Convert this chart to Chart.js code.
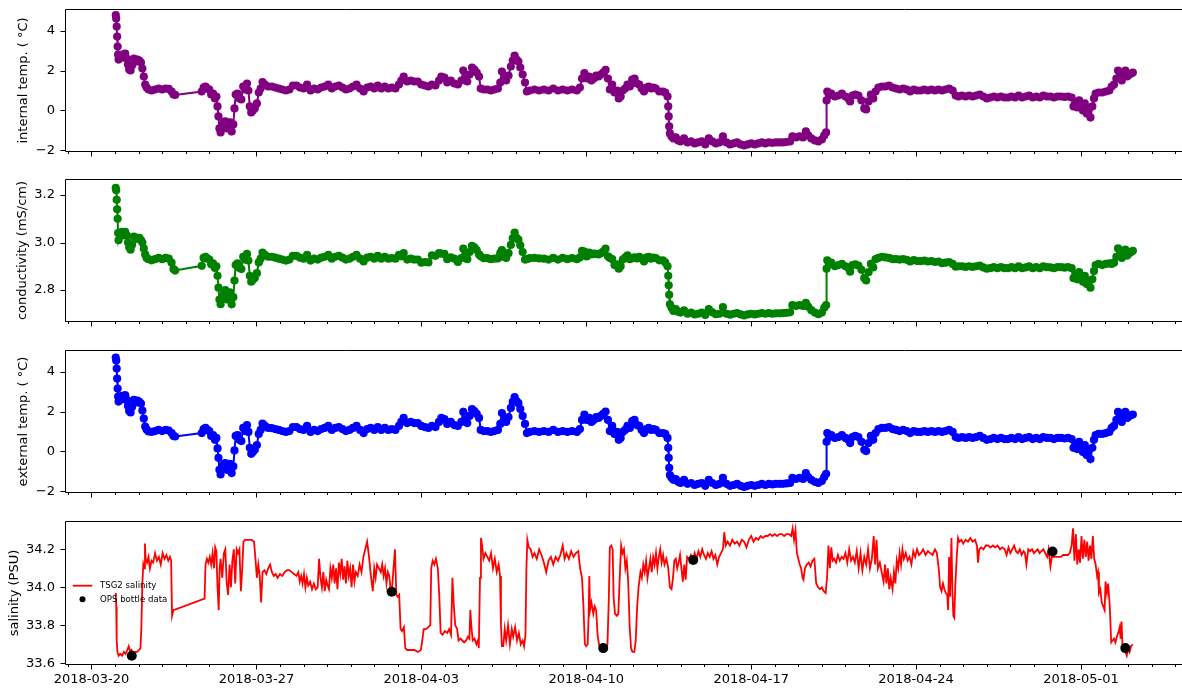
<!DOCTYPE html>
<html>
<head>
<meta charset="utf-8">
<script src="https://cdn.jsdelivr.net/npm/chart.js@4.4.1/dist/chart.umd.min.js"></script>
<style>
html,body{margin:0;padding:0;background:#fff;}
#wrap{position:relative;width:1182px;height:691px;overflow:hidden;background:#fff;}
.p{position:absolute;left:0;width:1186px;}
.p canvas{display:block;}
</style>
</head>
<body>
<div id="wrap">
  <div class="p" style="top:0px;height:170px"><canvas id="c1" width="1186" height="170"></canvas></div>
  <div class="p" style="top:170px;height:170px"><canvas id="c2" width="1186" height="170"></canvas></div>
  <div class="p" style="top:341px;height:170px"><canvas id="c3" width="1186" height="170"></canvas></div>
  <div class="p" style="top:511px;height:180px"><canvas id="c4" width="1186" height="180"></canvas></div>
</div>
<script>
// ---- data: time in days since 2018-03-20 00:00 ----
const TIME = [
1.03,1.05,1.07,1.09,1.11,1.13,1.15,1.22,1.29,1.36,
1.43,1.50,1.55,1.60,1.66,1.72,1.80,1.88,1.95,2.03,
2.10,2.16,2.22,2.28,2.34,2.42,2.55,2.70,2.85,3.00,
3.15,3.28,3.40,3.48,3.55,4.68,4.76,4.84,4.92,5.00,
5.08,5.16,5.24,5.30,5.35,5.39,5.43,5.48,5.55,5.62,
5.68,5.75,5.82,5.88,5.95,6.02,6.07,6.12,6.20,6.28,
6.36,6.44,6.52,6.60,6.66,6.72,6.78,6.85,6.93,7.02,
7.10,7.18,7.26,7.36,7.50,7.65,7.80,7.95,8.10,8.25,
8.40,8.55,8.70,8.85,9.00,9.15,9.30,9.45,9.60,9.75,
9.90,10.05,10.20,10.35,10.50,10.65,10.80,10.95,11.10,11.25,
11.40,11.55,11.70,11.85,12.00,12.15,12.30,12.45,12.60,12.75,
12.90,13.05,13.15,13.25,13.40,13.55,13.70,13.85,14.00,14.15,
14.30,14.45,14.60,14.75,14.85,14.98,15.10,15.25,15.40,15.55,
15.70,15.78,15.86,15.95,16.05,16.15,16.25,16.35,16.45,16.52,
16.65,16.80,16.95,17.10,17.25,17.35,17.42,17.50,17.60,17.70,
17.80,17.88,17.96,18.04,18.12,18.20,18.30,18.40,18.48,18.60,
18.80,19.00,19.20,19.40,19.60,19.80,20.00,20.20,20.40,20.60,
20.73,20.82,20.92,21.02,21.12,21.22,21.32,21.42,21.52,21.62,
21.72,21.82,21.92,22.00,22.10,22.20,22.30,22.38,22.46,22.55,
22.65,22.75,22.85,22.95,23.05,23.15,23.25,23.35,23.45,23.55,
23.65,23.75,23.85,23.95,24.10,24.25,24.35,24.45,24.48,24.50,
24.52,24.55,24.62,24.70,24.80,24.90,25.00,25.15,25.30,25.45,
25.60,25.75,25.90,26.05,26.20,26.35,26.50,26.65,26.80,26.95,
27.10,27.25,27.40,27.55,27.70,27.85,28.00,28.15,28.30,28.45,
28.60,28.75,28.90,29.05,29.20,29.35,29.50,29.65,29.75,29.90,
30.05,30.20,30.32,30.42,30.55,30.70,30.85,31.00,31.10,31.18,
31.20,31.23,31.30,31.40,31.55,31.70,31.85,32.00,32.12,32.20,
32.30,32.42,32.55,32.68,32.80,32.88,32.98,33.08,33.18,33.28,
33.40,33.55,33.70,33.85,34.00,34.15,34.30,34.45,34.60,34.75,
34.90,35.05,35.20,35.35,35.50,35.65,35.80,35.95,36.10,36.25,
36.40,36.55,36.68,36.80,36.95,37.10,37.25,37.40,37.55,37.70,
37.85,38.00,38.15,38.30,38.45,38.60,38.75,38.90,39.05,39.20,
39.35,39.50,39.65,39.80,39.95,40.10,40.25,40.40,40.55,40.70,
40.85,41.00,41.15,41.30,41.45,41.60,41.68,41.76,41.84,41.92,
42.00,42.08,42.16,42.24,42.32,42.40,42.48,42.55,42.62,42.75,
42.90,43.05,43.20,43.30,43.40,43.50,43.57,43.65,43.73,43.80,
43.88,43.96,44.05,44.13,44.20
];
const INT_TEMP = [
4.78,4.60,4.20,3.70,3.20,2.80,2.55,2.70,2.80,2.65,
2.85,2.60,2.30,2.05,2.00,2.25,2.60,2.45,2.55,2.50,
2.40,2.10,1.70,1.30,1.15,1.05,1.00,1.05,1.10,1.05,
1.10,1.08,0.95,0.80,0.78,0.95,1.15,1.20,1.10,1.05,
0.80,0.85,0.60,0.70,0.20,-0.30,-0.90,-1.10,-0.80,-0.60,
-0.55,-0.90,-0.70,-0.60,-1.05,-0.70,0.10,0.80,0.85,0.60,
0.55,1.20,1.05,1.35,1.00,0.20,-0.10,0.00,0.10,0.35,
0.90,1.10,1.42,1.30,1.20,1.20,1.15,1.10,1.05,1.00,
1.05,1.25,1.25,1.15,1.10,1.30,1.00,1.10,1.05,1.15,
1.20,1.30,1.10,1.20,1.25,1.15,1.05,1.10,1.20,1.30,
1.10,0.95,1.15,1.20,1.10,1.25,1.10,1.20,1.10,1.15,
1.10,1.30,1.50,1.70,1.45,1.50,1.45,1.45,1.30,1.25,
1.20,1.30,1.25,1.50,1.70,1.65,1.40,1.50,1.35,1.30,
1.50,2.00,1.60,1.45,1.80,2.15,2.05,1.90,1.70,1.10,
1.05,1.05,1.00,1.05,1.10,1.40,1.95,1.60,1.50,1.75,
2.20,2.50,2.75,2.55,2.45,2.15,1.80,1.40,0.95,1.00,
1.05,1.00,1.05,1.00,1.10,1.00,1.05,1.00,1.05,1.00,
1.15,1.60,1.87,1.60,1.70,1.50,1.60,1.75,1.70,1.80,
1.90,2.03,1.60,1.05,1.30,0.90,1.00,0.60,0.70,1.00,
1.10,1.30,1.20,1.55,1.60,1.35,1.30,1.10,0.95,1.15,
1.20,1.10,1.15,1.10,0.95,0.95,0.90,0.70,0.20,-0.30,
-0.80,-1.15,-1.30,-1.40,-1.35,-1.50,-1.55,-1.40,-1.60,-1.55,
-1.65,-1.60,-1.55,-1.70,-1.40,-1.55,-1.65,-1.60,-1.30,-1.60,
-1.70,-1.65,-1.60,-1.70,-1.75,-1.70,-1.65,-1.70,-1.65,-1.60,
-1.65,-1.60,-1.62,-1.60,-1.60,-1.60,-1.58,-1.55,-1.30,-1.35,
-1.30,-1.35,-1.05,-1.25,-1.40,-1.50,-1.55,-1.45,-1.25,-1.10,
0.50,0.95,0.75,0.85,0.70,0.75,0.85,0.70,0.60,0.45,
0.75,0.80,0.75,0.50,0.10,0.05,0.45,0.80,0.60,0.95,
1.15,1.20,1.20,1.25,1.15,1.10,1.05,1.10,1.05,0.95,
1.05,1.00,1.00,1.05,1.00,1.05,1.00,1.05,1.00,1.05,
1.10,1.00,0.75,0.70,0.75,0.70,0.75,0.70,0.75,0.80,
0.70,0.60,0.65,0.70,0.65,0.70,0.65,0.65,0.70,0.65,
0.75,0.65,0.70,0.75,0.65,0.70,0.65,0.75,0.70,0.70,
0.65,0.70,0.70,0.68,0.70,0.65,0.20,0.40,0.15,0.50,
0.30,0.00,0.35,-0.15,0.10,-0.35,0.20,0.60,0.85,0.90,
0.90,0.95,1.00,1.20,1.30,1.60,2.00,1.85,1.50,1.75,
2.00,1.70,1.80,1.85,1.90
];
const COND = [
3.23,3.22,3.18,3.14,3.10,3.04,3.01,3.035,3.045,3.03,
3.045,3.03,3.00,2.98,2.97,2.99,3.025,3.015,3.02,3.02,
3.01,3.00,2.975,2.95,2.935,2.93,2.925,2.93,2.935,2.93,
2.935,2.932,2.915,2.888,2.882,2.902,2.935,2.94,2.932,2.928,
2.908,2.912,2.893,2.90,2.86,2.81,2.76,2.74,2.765,2.785,
2.80,2.76,2.78,2.79,2.74,2.77,2.84,2.905,2.912,2.893,
2.888,2.94,2.928,2.952,2.924,2.86,2.835,2.843,2.851,2.871,
2.916,2.932,2.958,2.948,2.94,2.94,2.936,2.932,2.928,2.924,
2.928,2.944,2.944,2.936,2.932,2.948,2.924,2.932,2.928,2.936,
2.94,2.948,2.932,2.94,2.944,2.936,2.928,2.932,2.94,2.948,
2.932,2.92,2.936,2.94,2.932,2.944,2.932,2.94,2.932,2.934,
2.932,2.948,2.942,2.955,2.928,2.932,2.928,2.928,2.915,2.918,
2.916,2.946,2.944,2.955,2.953,2.952,2.93,2.938,2.932,2.918,
2.934,2.974,2.942,2.93,2.96,2.986,2.98,2.968,2.95,2.942,
2.934,2.934,2.93,2.932,2.933,2.955,2.968,2.94,2.935,2.955,
2.99,3.018,3.042,3.02,3.012,2.988,2.96,2.928,2.93,2.934,
2.935,2.933,2.932,2.928,2.935,2.928,2.935,2.93,2.934,2.93,
2.937,2.965,2.962,2.941,2.958,2.95,2.953,2.952,2.95,2.955,
2.962,2.974,2.942,2.935,2.93,2.905,2.908,2.89,2.90,2.928,
2.936,2.946,2.93,2.934,2.938,2.933,2.94,2.932,2.92,2.936,
2.94,2.932,2.936,2.934,2.925,2.925,2.916,2.90,2.86,2.82,
2.78,2.74,2.725,2.712,2.72,2.708,2.705,2.714,2.70,2.705,
2.697,2.70,2.705,2.695,2.72,2.706,2.698,2.70,2.728,2.70,
2.696,2.70,2.703,2.697,2.693,2.697,2.70,2.697,2.70,2.703,
2.70,2.703,2.70,2.702,2.702,2.703,2.704,2.706,2.736,2.733,
2.736,2.733,2.746,2.73,2.715,2.705,2.698,2.705,2.725,2.736,
2.89,2.925,2.91,2.915,2.90,2.905,2.91,2.90,2.893,2.877,
2.905,2.908,2.903,2.885,2.85,2.84,2.875,2.91,2.895,2.93,
2.935,2.94,2.937,2.935,2.93,2.93,2.928,2.93,2.927,2.92,
2.926,2.922,2.922,2.924,2.92,2.922,2.918,2.92,2.913,2.915,
2.918,2.91,2.898,2.90,2.90,2.897,2.90,2.897,2.90,2.903,
2.895,2.89,2.892,2.896,2.892,2.896,2.892,2.892,2.896,2.892,
2.90,2.892,2.895,2.90,2.892,2.896,2.892,2.90,2.896,2.895,
2.892,2.896,2.896,2.894,2.896,2.892,2.85,2.865,2.845,2.875,
2.86,2.835,2.86,2.825,2.84,2.81,2.845,2.88,2.905,2.91,
2.905,2.91,2.912,2.91,2.915,2.94,2.975,2.965,2.935,2.95,
2.97,2.945,2.955,2.96,2.965
];
const EXT_TEMP = [
4.70,4.55,4.15,3.65,3.15,2.75,2.50,2.65,2.78,2.62,
2.82,2.58,2.28,2.02,1.95,2.22,2.58,2.45,2.55,2.48,
2.40,2.05,1.65,1.25,1.10,1.00,0.98,1.02,1.08,1.02,
1.08,1.05,0.92,0.78,0.75,0.92,1.12,1.18,1.08,1.02,
0.78,0.82,0.58,0.68,0.15,-0.32,-0.92,-1.15,-0.85,-0.62,
-0.58,-0.92,-0.72,-0.62,-1.08,-0.75,0.05,0.78,0.82,0.58,
0.52,1.18,1.02,1.32,0.98,0.18,-0.12,-0.03,0.08,0.32,
0.88,1.08,1.40,1.28,1.18,1.17,1.12,1.08,1.02,0.98,
1.02,1.22,1.22,1.12,1.08,1.28,0.98,1.08,1.02,1.12,
1.18,1.28,1.08,1.18,1.22,1.12,1.02,1.08,1.18,1.28,
1.08,0.92,1.12,1.18,1.08,1.22,1.08,1.18,1.08,1.12,
1.08,1.28,1.48,1.68,1.42,1.48,1.42,1.42,1.28,1.22,
1.18,1.28,1.22,1.48,1.68,1.62,1.38,1.48,1.32,1.28,
1.48,1.98,1.58,1.42,1.78,2.12,2.02,1.88,1.68,1.08,
1.02,1.02,0.98,1.02,1.08,1.38,1.92,1.58,1.48,1.72,
2.18,2.48,2.72,2.52,2.42,2.12,1.78,1.38,0.92,0.98,
1.02,0.98,1.02,0.98,1.08,0.98,1.02,0.98,1.02,0.98,
1.12,1.58,1.85,1.58,1.68,1.48,1.58,1.72,1.68,1.78,
1.88,2.00,1.58,1.02,1.28,0.88,0.98,0.58,0.68,0.98,
1.08,1.28,1.18,1.52,1.58,1.32,1.28,1.08,0.92,1.12,
1.18,1.08,1.12,1.08,0.92,0.92,0.88,0.68,0.18,-0.32,
-0.82,-1.18,-1.32,-1.42,-1.38,-1.52,-1.58,-1.42,-1.62,-1.58,
-1.68,-1.62,-1.58,-1.72,-1.42,-1.58,-1.68,-1.62,-1.32,-1.62,
-1.72,-1.68,-1.62,-1.72,-1.78,-1.72,-1.68,-1.72,-1.68,-1.62,
-1.68,-1.62,-1.65,-1.62,-1.62,-1.62,-1.60,-1.58,-1.32,-1.38,
-1.32,-1.38,-1.08,-1.28,-1.42,-1.52,-1.58,-1.48,-1.28,-1.12,
0.48,0.92,0.72,0.82,0.68,0.72,0.82,0.68,0.58,0.42,
0.72,0.78,0.72,0.48,0.08,0.02,0.42,0.78,0.58,0.92,
1.12,1.18,1.18,1.22,1.12,1.08,1.02,1.08,1.02,0.92,
1.02,0.98,0.98,1.02,0.98,1.02,0.98,1.02,0.98,1.02,
1.08,0.98,0.72,0.68,0.72,0.68,0.72,0.68,0.72,0.78,
0.68,0.58,0.62,0.68,0.62,0.68,0.62,0.62,0.68,0.62,
0.72,0.62,0.68,0.72,0.62,0.68,0.62,0.72,0.68,0.68,
0.62,0.68,0.68,0.65,0.68,0.62,0.18,0.38,0.12,0.48,
0.28,-0.03,0.32,-0.18,0.08,-0.38,0.18,0.58,0.82,0.88,
0.88,0.92,0.98,1.18,1.28,1.58,1.98,1.82,1.48,1.72,
1.98,1.68,1.78,1.82,1.85
];
const SAL_TIME = [
1.03,1.05,1.07,1.10,1.15,1.22,1.30,1.38,1.45,1.52,
1.58,1.64,1.70,1.78,1.86,1.94,2.02,2.08,2.12,2.16,
2.20,2.24,2.27,2.30,2.36,2.42,2.48,2.55,2.62,2.70,
2.78,2.86,2.94,3.02,3.10,3.18,3.26,3.33,3.38,3.42,
3.48,4.80,4.84,4.90,4.96,5.02,5.08,5.14,5.20,5.25,
5.30,5.35,5.40,5.44,5.48,5.55,5.62,5.68,5.74,5.80,
5.86,5.92,5.98,6.04,6.10,6.16,6.22,6.28,6.34,6.40,
6.45,6.52,6.60,6.70,6.80,6.90,6.96,7.02,7.08,7.14,
7.20,7.26,7.34,7.42,7.50,7.58,7.66,7.74,7.82,7.90,
8.00,8.10,8.20,8.30,8.40,8.50,8.60,8.70,8.78,8.84,
8.90,8.96,9.02,9.08,9.14,9.20,9.28,9.36,9.44,9.52,
9.60,9.66,9.72,9.78,9.84,9.90,9.96,10.02,10.08,10.14,
10.20,10.26,10.32,10.38,10.44,10.50,10.56,10.62,10.68,10.74,
10.80,10.86,10.92,10.98,11.04,11.10,11.16,11.22,11.30,11.38,
11.46,11.54,11.62,11.70,11.78,11.86,11.94,12.00,12.06,12.12,
12.20,12.28,12.34,12.40,12.46,12.52,12.58,12.64,12.70,12.76,
12.82,12.88,12.94,13.00,13.06,13.12,13.18,13.26,13.32,13.40,
13.55,13.70,13.85,13.98,14.04,14.10,14.20,14.30,14.38,14.42,
14.48,14.55,14.62,14.70,14.76,14.82,14.90,15.00,15.10,15.18,
15.26,15.32,15.38,15.44,15.52,15.58,15.66,15.74,15.82,15.90,
15.98,16.04,16.08,16.12,16.18,16.26,16.34,16.40,16.44,16.49,
16.53,16.58,16.64,16.72,16.80,16.88,16.96,17.04,17.12,17.20,
17.28,17.34,17.38,17.42,17.48,17.54,17.60,17.68,17.76,17.84,
17.90,17.98,18.06,18.14,18.22,18.30,18.36,18.42,18.46,18.50,
18.56,18.64,18.72,18.80,18.90,19.00,19.10,19.20,19.30,19.40,
19.50,19.60,19.70,19.80,19.90,20.00,20.08,20.16,20.26,20.36,
20.46,20.56,20.66,20.74,20.82,20.88,20.94,21.00,21.06,21.10,
21.13,21.16,21.22,21.30,21.36,21.42,21.48,21.54,21.60,21.66,
21.74,21.82,21.90,21.96,22.00,22.06,22.12,22.16,22.22,22.30,
22.36,22.42,22.48,22.54,22.60,22.66,22.72,22.78,22.84,22.90,
22.96,23.04,23.10,23.16,23.22,23.30,23.36,23.42,23.48,23.54,
23.60,23.66,23.72,23.78,23.84,23.90,23.96,24.02,24.08,24.14,
24.20,24.26,24.32,24.40,24.48,24.55,24.62,24.68,24.74,24.80,
24.86,24.92,24.98,25.04,25.10,25.16,25.22,25.28,25.36,25.44,
25.52,25.60,25.68,25.76,25.84,25.92,26.00,26.08,26.16,26.24,
26.32,26.40,26.48,26.56,26.64,26.72,26.80,26.86,26.92,27.00,
27.10,27.20,27.30,27.40,27.50,27.60,27.70,27.80,27.90,28.00,
28.10,28.20,28.30,28.40,28.50,28.60,28.70,28.80,28.90,29.00,
29.10,29.20,29.30,29.40,29.50,29.60,29.70,29.76,29.82,29.88,
29.94,30.00,30.06,30.12,30.18,30.22,30.28,30.36,30.44,30.52,
30.60,30.68,30.76,30.84,30.92,31.00,31.08,31.16,31.22,31.28,
31.34,31.40,31.46,31.52,31.60,31.68,31.76,31.84,31.92,32.00,
32.08,32.16,32.24,32.32,32.40,32.48,32.56,32.64,32.72,32.80,
32.88,32.96,33.04,33.12,33.20,33.26,33.32,33.38,33.46,33.54,
33.62,33.68,33.74,33.80,33.86,33.92,34.00,34.06,34.12,34.18,
34.24,34.30,34.36,34.42,34.48,34.56,34.64,34.72,34.80,34.88,
34.96,35.04,35.12,35.20,35.30,35.40,35.50,35.60,35.70,35.80,
35.88,35.96,36.02,36.08,36.14,36.20,36.26,36.32,36.36,36.40,
36.44,36.50,36.54,36.58,36.62,36.66,36.72,36.78,36.84,36.92,
37.00,37.10,37.20,37.30,37.40,37.50,37.58,37.63,37.68,37.76,
37.86,37.96,38.06,38.16,38.26,38.36,38.46,38.56,38.66,38.76,
38.84,38.92,39.00,39.08,39.16,39.24,39.32,39.40,39.48,39.56,
39.62,39.68,39.76,39.84,39.92,40.00,40.08,40.16,40.24,40.32,
40.40,40.48,40.56,40.62,40.70,40.76,40.84,40.94,41.04,41.14,
41.24,41.34,41.44,41.52,41.60,41.66,41.72,41.78,41.84,41.90,
41.96,42.02,42.08,42.14,42.20,42.26,42.32,42.38,42.44,42.50,
42.56,42.62,42.68,42.72,42.76,42.82,42.88,42.94,43.00,43.04,
43.10,43.15,43.22,43.28,43.34,43.40,43.46,43.52,43.58,43.64,
43.68,43.72,43.76,43.82,43.88,43.94,44.00,44.06,44.12,44.20
];
const SAL = [
33.97,33.90,33.72,33.66,33.64,33.65,33.64,33.66,33.65,33.67,
33.69,33.66,33.67,33.65,33.66,33.66,33.67,33.68,33.80,34.02,
34.12,34.10,34.23,34.15,34.13,34.16,34.10,34.14,34.13,34.18,
34.14,34.16,34.12,34.18,34.15,34.17,34.14,34.16,34.14,33.85,
33.88,33.94,34.12,34.15,34.13,34.16,34.12,34.18,34.10,34.21,
34.19,34.00,33.88,34.10,34.15,34.05,34.18,34.20,34.02,33.96,
34.12,34.00,34.14,34.20,34.02,34.20,34.18,34.20,33.98,34.10,
34.24,34.25,34.25,34.25,34.25,34.24,34.15,34.05,34.12,34.06,
33.92,34.08,34.09,34.07,34.10,34.12,34.08,34.06,34.07,34.05,
34.07,34.06,34.08,34.09,34.09,34.08,34.07,34.06,34.08,34.03,
34.06,34.02,34.07,34.00,34.05,34.01,34.03,33.99,34.02,33.99,
34.00,34.15,34.05,34.00,34.08,33.98,34.04,34.01,33.99,34.10,
34.05,34.12,34.02,34.10,33.99,34.13,34.07,34.15,34.04,34.11,
34.02,34.14,34.06,34.10,34.00,34.12,34.03,34.08,34.06,34.12,
34.08,34.16,34.20,34.24,34.16,34.06,33.98,34.10,34.05,34.12,
34.10,34.08,34.12,34.06,34.10,34.02,34.08,34.06,33.98,34.00,
34.10,34.20,33.96,33.95,33.96,33.78,33.77,33.79,33.68,33.67,
33.67,33.67,33.66,33.67,33.72,33.78,33.78,33.79,33.80,34.10,
34.14,34.12,34.15,34.10,33.96,33.76,33.75,33.77,33.76,33.78,
33.75,34.05,33.90,33.80,33.78,33.72,33.73,33.72,33.71,33.72,
33.74,33.73,33.88,33.80,33.72,33.73,33.70,33.72,33.68,34.05,
34.26,34.22,34.15,34.18,34.16,34.14,34.18,34.10,34.15,34.08,
34.12,34.06,33.80,33.69,33.69,33.78,33.72,33.80,33.70,33.78,
33.74,33.79,33.72,33.76,33.70,33.72,33.69,33.75,34.10,34.25,
34.21,34.20,34.16,34.18,34.15,34.20,34.17,34.13,34.08,34.14,
34.16,34.12,34.16,34.14,34.17,34.22,34.15,34.18,34.15,34.19,
34.16,34.18,34.19,34.10,34.05,33.90,33.70,33.69,33.70,33.85,
34.06,33.88,33.92,33.86,33.90,33.88,33.75,33.70,33.68,33.67,
33.66,33.67,33.70,33.95,34.21,34.22,34.20,33.95,33.86,33.85,
33.86,34.05,34.22,34.18,34.20,34.10,34.14,34.03,33.80,33.68,
33.66,33.66,33.72,33.90,34.00,34.08,34.05,34.12,34.08,34.14,
34.05,34.10,34.15,34.08,34.16,34.12,34.18,34.10,34.16,34.20,
34.13,34.17,34.12,34.15,34.10,34.00,33.99,34.05,34.14,34.15,
34.10,34.13,34.17,34.10,34.03,34.12,34.04,34.16,34.15,34.17,
34.14,34.18,34.15,34.19,34.16,34.20,34.17,34.15,34.18,34.16,
34.19,34.15,34.17,34.12,34.16,34.18,34.20,34.29,34.22,34.24,
34.22,34.25,34.23,34.24,34.22,34.25,34.24,34.21,34.25,34.27,
34.24,34.26,34.25,34.27,34.26,34.27,34.27,34.28,34.27,34.28,
34.27,34.28,34.28,34.27,34.28,34.28,34.27,34.31,34.25,34.30,
34.18,34.15,34.12,34.10,34.05,34.04,34.10,34.12,34.13,34.11,
34.14,34.15,34.02,34.00,33.99,34.00,33.98,33.97,34.05,34.22,
34.10,34.21,34.14,34.15,34.13,34.17,34.14,34.16,34.15,34.18,
34.13,34.20,34.14,34.16,34.13,34.19,34.10,34.18,34.09,34.16,
34.12,34.20,34.10,34.15,34.27,34.12,34.25,34.10,34.13,34.08,
34.03,34.12,34.02,34.10,33.99,34.05,33.99,34.08,34.02,34.14,
34.10,34.18,34.12,34.20,34.15,34.18,34.14,34.16,34.12,34.19,
34.16,34.20,34.17,34.18,34.20,34.17,34.19,34.18,34.17,34.20,
34.18,34.10,34.00,33.98,34.02,33.99,33.97,33.96,33.88,34.16,
33.95,34.26,33.98,33.85,33.84,34.00,34.15,34.26,34.24,34.25,
34.23,34.25,34.24,34.26,34.24,34.25,34.22,34.13,34.20,34.21,
34.20,34.22,34.22,34.21,34.22,34.21,34.22,34.20,34.21,34.20,
34.17,34.21,34.18,34.20,34.22,34.19,34.18,34.20,34.17,34.19,
34.18,34.12,34.20,34.19,34.20,34.18,34.19,34.20,34.18,34.19,
34.20,34.18,34.16,34.20,34.11,34.16,34.16,34.16,34.16,34.16,
34.17,34.17,34.17,34.18,34.22,34.31,34.14,34.28,34.12,34.20,
34.13,34.27,34.15,34.25,34.16,34.24,34.14,34.22,34.15,34.27,
34.15,34.12,34.06,34.08,33.97,33.99,33.92,33.90,33.88,34.03,
33.97,34.02,33.90,33.71,33.72,33.73,33.71,33.74,33.76,33.79,
33.73,33.82,33.69,33.68,33.66,33.64,33.68,33.66,33.69,33.70
];
const BOTTLE_TIME = [1.71, 12.74, 21.72, 25.54, 40.79, 43.88];
const BOTTLE_SAL  = [33.64, 33.977, 33.68, 34.144, 34.188, 33.68];

const DAY_TICKS = [-1,0,1,2,3,4,5,6,7,8,9,10,11,12,13,14,15,16,17,18,19,20,21,22,23,24,25,26,27,28,29,30,31,32,33,34,35,36,37,38,39,40,41,42,43,44,45,46];
const TEMP_TICKS = [-2, 0, 2, 4];
const COND_TICKS = [2.8, 3.0, 3.2];
const SAL_TICKS = [33.6, 33.8, 34.0, 34.2];
const START_DATE = Date.UTC(2018, 2, 20);

// ---- helpers ----
function pts(xs, ys) { return xs.map((x, i) => ({x: x, y: ys[i]})); }
function dateLabel(d) { return new Date(START_DATE + d * 86400000).toISOString().slice(0, 10); }
function minusFmt(v) { return v < 0 ? '\u2212' + Math.abs(v) : String(v); }

Chart.defaults.font.family = "'DejaVu Sans', sans-serif";
Chart.defaults.font.size = 13;
Chart.defaults.color = '#000';

const framePlugin = {
  id: 'frame',
  afterDraw(chart) {
    const {ctx, chartArea: a, scales} = chart;
    ctx.save();
    ctx.strokeStyle = '#000';
    ctx.lineWidth = 1;
    const L = Math.round(a.left) + 0.5, R = Math.round(a.right) + 0.5;
    const T = Math.round(a.top) - 0.5, B = Math.round(a.bottom) + 0.5;
    ctx.beginPath();
    ctx.rect(L, T, R - L, B - T);
    ctx.stroke();
    const xs = scales.x;
    ctx.beginPath();
    xs.ticks.forEach(t => {
      const px = Math.round(xs.getPixelForValue(t.value)) + 0.5;
      const len = (t.value % 7 === 0) ? 5 : 2.5;
      ctx.moveTo(px, B); ctx.lineTo(px, B + len);
    });
    const ys = scales.y;
    ys.ticks.forEach(t => {
      const py = Math.round(ys.getPixelForValue(t.value)) + 0.5;
      ctx.moveTo(L - 5, py); ctx.lineTo(L, py);
    });
    ctx.stroke();
    ctx.restore();
  }
};

const insideLegend = {
  id: 'insideLegend',
  afterDraw(chart, args, opts) {
    if (!opts || !opts.items) return;
    const {ctx, chartArea: a} = chart;
    ctx.save();
    ctx.font = "8.6px 'DejaVu Sans'";
    ctx.textBaseline = 'middle';
    ctx.textAlign = 'left';
    opts.items.forEach((it, i) => {
      const ds = chart.data.datasets[it.index];
      const y = a.top + opts.y0 + i * opts.dy;
      const x0 = a.left + opts.x0;
      if (it.kind === 'line') {
        ctx.strokeStyle = ds.borderColor;
        ctx.lineWidth = ds.borderWidth;
        ctx.beginPath(); ctx.moveTo(x0, y); ctx.lineTo(x0 + 19.6, y); ctx.stroke();
      } else {
        ctx.fillStyle = ds.pointBackgroundColor;
        ctx.beginPath(); ctx.arc(x0 + 9.8, y, 3, 0, Math.PI * 2); ctx.fill();
      }
      ctx.fillStyle = '#000';
      ctx.fillText(ds.label, x0 + 27.3, y);
    });
    ctx.restore();
  }
};

function zeroPad(s) { s.paddingLeft = 0; s.paddingRight = 0; s.paddingTop = 0; s.paddingBottom = 0; }

function makeChart(id, cfg) {
  return new Chart(document.getElementById(id), {
    type: 'line',
    data: {datasets: cfg.datasets},
    plugins: [framePlugin, insideLegend],
    options: {
      responsive: false,
      animation: false,
      events: [],
      layout: {padding: {top: cfg.padTop, left: 0, right: 2, bottom: 0}, autoPadding: false},
      plugins: {
        legend: {display: false},
        tooltip: {enabled: false},
        insideLegend: cfg.legend || {}
      },
      scales: {
        x: {
          type: 'linear',
          min: -1.124, max: 46.37,
          afterBuildTicks: s => { s.ticks = DAY_TICKS.map(v => ({value: v})); },
          ticks: {
            display: cfg.showX,
            autoSkip: false, maxRotation: 0, minRotation: 0,
            padding: 8,
            font: {size: 13},
            color: '#000',
            callback: v => (v % 7 === 0 ? dateLabel(v) : '')
          },
          grid: {display: false, drawTicks: false},
          border: {display: false},
          afterFit: s => { s.height = cfg.xHeight; zeroPad(s); }
        },
        y: {
          type: 'linear',
          min: cfg.yMin, max: cfg.yMax,
          afterBuildTicks: s => { s.ticks = cfg.yTicks.map(v => ({value: v})); },
          ticks: {padding: 10, font: {size: 13}, color: '#000', callback: cfg.yFmt},
          grid: {display: false, drawTicks: false},
          border: {display: false},
          title: {display: true, text: cfg.title, color: '#000', font: {size: 13}, padding: {top: cfg.titlePad, bottom: 0}},
          afterFit: s => { s.width = 65; zeroPad(s); }
        }
      }
    }
  });
}

function markerSeries(data, color) {
  return {
    data: data, borderColor: color, backgroundColor: color,
    pointBackgroundColor: color, pointBorderWidth: 0, pointRadius: 4.1,
    borderWidth: 2, tension: 0
  };
}

makeChart('c1', {
  datasets: [markerSeries(pts(TIME, INT_TEMP), '#800080')],
  padTop: 10, xHeight: 19, showX: false,
  yMin: -2.03, yMax: 5.03, yTicks: TEMP_TICKS, yFmt: v => minusFmt(v),
  title: 'internal temp. ( \u00B0C)', titlePad: 16
});
makeChart('c2', {
  datasets: [markerSeries(pts(TIME, COND), '#008000')],
  padTop: 10, xHeight: 19, showX: false,
  yMin: 2.6695, yMax: 3.2632, yTicks: COND_TICKS, yFmt: v => v.toFixed(1),
  title: 'conductivity (mS/cm)', titlePad: 15
});
makeChart('c3', {
  datasets: [markerSeries(pts(TIME, EXT_TEMP), '#0000ff')],
  padTop: 10, xHeight: 19, showX: false,
  yMin: -2.03, yMax: 5.03, yTicks: TEMP_TICKS, yFmt: v => minusFmt(v),
  title: 'external temp. ( \u00B0C)', titlePad: 16
});
makeChart('c4', {
  datasets: [
    {label: 'TSG2 salinity', data: pts(SAL_TIME, SAL), borderColor: '#ff0000', backgroundColor: '#ff0000',
     borderWidth: 1.8, pointRadius: 0, tension: 0, order: 1},
    {label: 'OPS bottle data', data: pts(BOTTLE_TIME, BOTTLE_SAL), showLine: false,
     pointRadius: 5, pointBorderWidth: 0, pointBackgroundColor: '#000', borderColor: '#000', backgroundColor: '#000', order: 0}
  ],
  padTop: 11, xHeight: 27, showX: true,
  yMin: 33.5963, yMax: 34.3437, yTicks: SAL_TICKS, yFmt: v => v.toFixed(1),
  title: 'salinity (PSU)', titlePad: 7,
  legend: {items: [{index: 0, kind: 'line'}, {index: 1, kind: 'dot'}], x0: 7.7, y0: 63.7, dy: 13.6}
});
</script>
</body>
</html>
